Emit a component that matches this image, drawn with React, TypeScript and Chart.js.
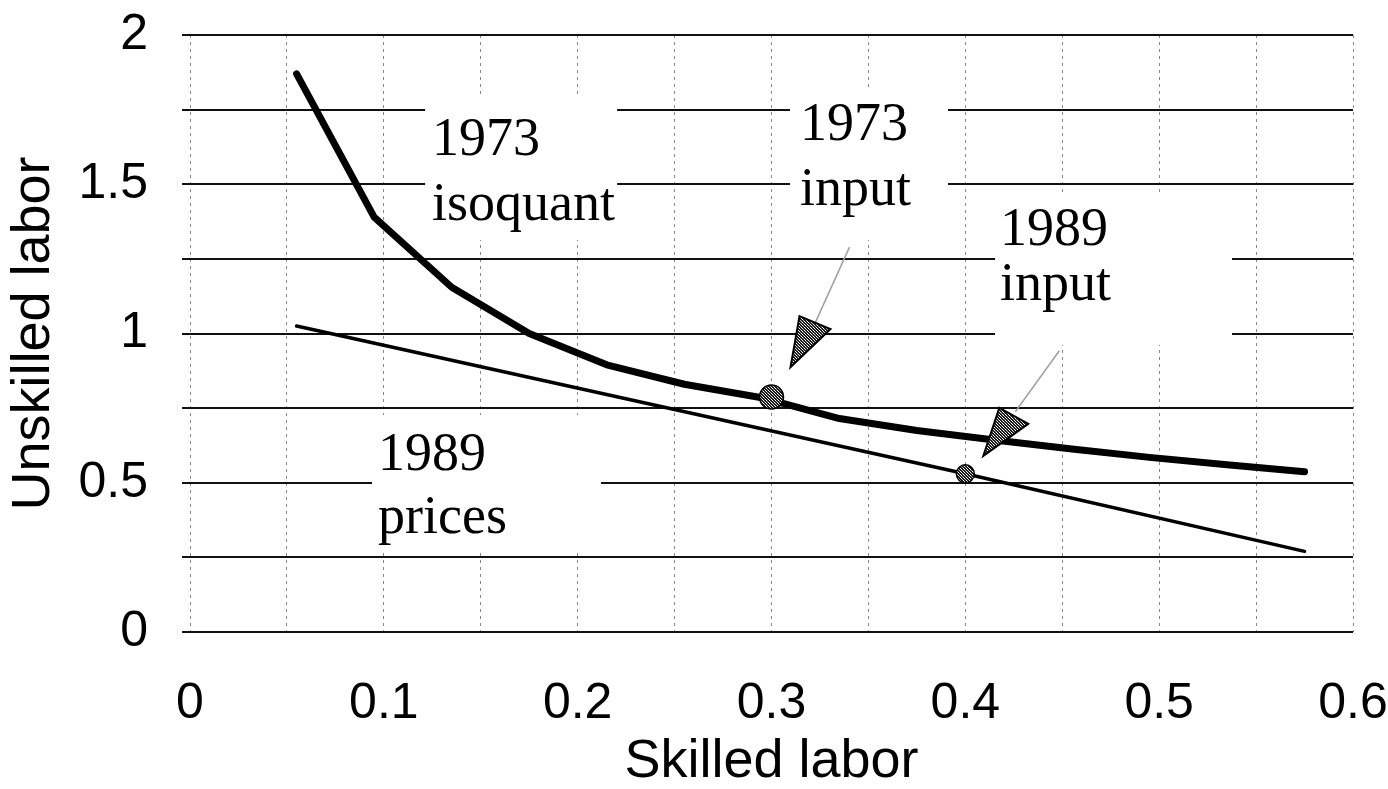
import React, { useEffect, useRef } from "react";
import { Chart, registerables } from "chart.js";

Chart.register(...registerables);

// ---- data ----
const isoquantX = [0.055, 0.095, 0.135, 0.175, 0.215, 0.255, 0.295, 0.335, 0.375, 0.415, 0.455, 0.495, 0.535, 0.575];
const isoquantY = [1.87, 1.39, 1.155, 1.0, 0.895, 0.83, 0.785, 0.715, 0.675, 0.643, 0.613, 0.585, 0.56, 0.537];
const pricesX = [0.055, 0.4, 0.575];
const pricesY = [1.025, 0.53, 0.27];
const inputX = [0.3, 0.4];
const inputY = [0.787, 0.53];
const xTickLabels = ["0", "0.1", "0.2", "0.3", "0.4", "0.5", "0.6"];
const yTickLabels = ["0", "0.5", "1", "1.5", "2"];
const xTitle = "Skilled labor";
const yTitle = "Unskilled labor";
const noteTexts = [
  ["1973", "isoquant"],
  ["1973", "input"],
  ["1989", "input"],
  ["1989", "prices"],
];
const noteX = [0.1249, 0.3147, 0.4179, 0.097];
const noteY = [1.598, 1.648, 1.2965, 0.5427];

// ---- styling / layout (not data) ----
const noteLineGap = [65, 65, 55, 63];
const noteBoxes = [
  [-7, -60, 192, 145],
  [-10, -52, 158, 152],
  [-5, -50, 237, 150],
  [-6, -55, 229, 135],
];
// callout pointers, offsets in px relative to the input dots
const pointerTriangles = [
  [[28, -81], [59, -68], [19, -30]],
  [[34, -66], [63, -50], [18, -18]],
];
const pointerLines = [
  [[78, -150], [44, -75]],
  [[94, -123], [50, -62]],
];

const SANS = "'Liberation Sans', Arial, Helvetica, sans-serif";
const SERIF = "'Liberation Serif', 'Times New Roman', serif";

export default function App() {
  const ref = useRef<HTMLCanvasElement | null>(null);

  useEffect(() => {
    document.body.style.margin = "0";
    const canvas = ref.current;
    if (!canvas) return;
    const ctx = canvas.getContext("2d")!;

    const pc = document.createElement("canvas");
    pc.width = 3;
    pc.height = 3;
    const g = pc.getContext("2d")!;
    g.fillStyle = "#1a1a1a";
    g.fillRect(0, 0, 3, 3);
    g.fillStyle = "#fff";
    g.fillRect(1, 1, 1, 1);
    g.fillRect(0, 0, 1, 1);
    g.fillStyle = "#bbb";
    g.fillRect(2, 2, 1, 1);
    const pattern = ctx.createPattern(pc, "repeat")!;

    const notesPlugin = {
      id: "notes",
      beforeDatasetsDraw(chart: any) {
        const c = chart.ctx;
        const xs = chart.scales.x;
        const ys = chart.scales.y;
        c.save();
        c.fillStyle = "#fff";
        noteTexts.forEach((_, i) => {
          const px = xs.getPixelForValue(noteX[i]);
          const py = ys.getPixelForValue(noteY[i]);
          const b = noteBoxes[i];
          c.fillRect(px + b[0], py + b[1], b[2], b[3]);
        });
        c.restore();
      },
      afterDatasetsDraw(chart: any) {
        const c = chart.ctx;
        const xs = chart.scales.x;
        const ys = chart.scales.y;
        c.save();
        inputX.forEach((v, i) => {
          const dx = xs.getPixelForValue(v);
          const dy = ys.getPixelForValue(inputY[i]);
          const l = pointerLines[i];
          c.strokeStyle = "#a0a0a0";
          c.lineWidth = 1.5;
          c.beginPath();
          c.moveTo(dx + l[0][0], dy + l[0][1]);
          c.lineTo(dx + l[1][0], dy + l[1][1]);
          c.stroke();
          const t = pointerTriangles[i];
          c.beginPath();
          c.moveTo(dx + t[0][0], dy + t[0][1]);
          c.lineTo(dx + t[1][0], dy + t[1][1]);
          c.lineTo(dx + t[2][0], dy + t[2][1]);
          c.closePath();
          c.fillStyle = pattern;
          c.fill();
          c.strokeStyle = "#000";
          c.lineWidth = 2;
          c.lineJoin = "miter";
          c.stroke();
        });
        c.restore();
      },
      afterDraw(chart: any) {
        const c = chart.ctx;
        const xs = chart.scales.x;
        const ys = chart.scales.y;
        c.save();
        c.fillStyle = "#000";
        c.font = `54px ${SERIF}`;
        c.textAlign = "left";
        c.textBaseline = "alphabetic";
        noteTexts.forEach((lines, i) => {
          const px = xs.getPixelForValue(noteX[i]);
          const py = ys.getPixelForValue(noteY[i]);
          lines.forEach((s, k) => c.fillText(s, px, py + k * noteLineGap[i]));
        });
        c.restore();
      },
    };

    const chart = new Chart(ctx, {
      type: "scatter",
      data: {
        datasets: [
          {
            label: "Inputs",
            data: inputX.map((x, i) => ({ x, y: inputY[i] })),
            showLine: false,
            pointRadius: [12, 9],
            pointBackgroundColor: pattern as any,
            pointBorderColor: "#000",
            pointBorderWidth: 1.5,
          },
          {
            label: "1973 isoquant",
            data: isoquantX.map((x, i) => ({ x, y: isoquantY[i] })),
            showLine: true,
            borderColor: "#000",
            borderWidth: 7,
            pointRadius: 0,
            tension: 0,
            borderCapStyle: "round",
            borderJoinStyle: "round",
          },
          {
            label: "1989 prices",
            data: pricesX.map((x, i) => ({ x, y: pricesY[i] })),
            showLine: true,
            borderColor: "#000",
            borderWidth: 3.5,
            pointRadius: 0,
            tension: 0,
            borderCapStyle: "round",
          },
        ],
      },
      options: {
        responsive: false,
        animation: false,
        devicePixelRatio: 1,
        layout: { padding: { top: 35, right: 35, left: 0, bottom: 0 } },
        plugins: { legend: { display: false }, tooltip: { enabled: false } },
        scales: {
          x: {
            type: "linear",
            min: 0,
            max: 0.6,
            ticks: {
              stepSize: 0.05,
              autoSkip: false,
              maxRotation: 0,
              padding: 42,
              color: "#000",
              font: { family: SANS, size: 50 },
              callback: (_v: any, i: number) => (i % 2 === 0 ? xTickLabels[i / 2] : ""),
            },
            grid: { color: "#8a8a8a", lineWidth: 1, drawTicks: false },
            border: { display: false, dash: [3, 4] },
            title: {
              display: true,
              text: xTitle,
              color: "#000",
              font: { family: SANS, size: 54, lineHeight: 1 },
              padding: { top: 0, bottom: 0 },
            },
            afterFit: (s: any) => {
              s.height = 157;
              s.paddingLeft = 0;
              s.paddingRight = 0;
            },
          },
          y: {
            type: "linear",
            min: 0,
            max: 2,
            ticks: {
              stepSize: 0.25,
              autoSkip: false,
              padding: 34,
              color: "#000",
              font: { family: SANS, size: 50 },
              callback: (_v: any, i: number) => (i % 2 === 0 ? yTickLabels[i / 2] : ""),
            },
            grid: { color: "#111", lineWidth: 2, drawTicks: true, tickLength: 8 },
            border: { display: false },
            title: {
              display: true,
              text: yTitle,
              color: "#000",
              font: { family: SANS, size: 54, lineHeight: 1 },
              padding: { top: 7, bottom: 0 },
            },
            afterFit: (s: any) => {
              s.width = 190;
              s.paddingTop = 0;
              s.paddingBottom = 0;
            },
          },
        },
      } as any,
      plugins: [notesPlugin],
    });

    return () => chart.destroy();
  }, []);

  return (
    <canvas
      ref={ref}
      width={1388}
      height={789}
      style={{ position: "absolute", left: 0, top: 0, display: "block", background: "#fff" }}
    />
  );
}
